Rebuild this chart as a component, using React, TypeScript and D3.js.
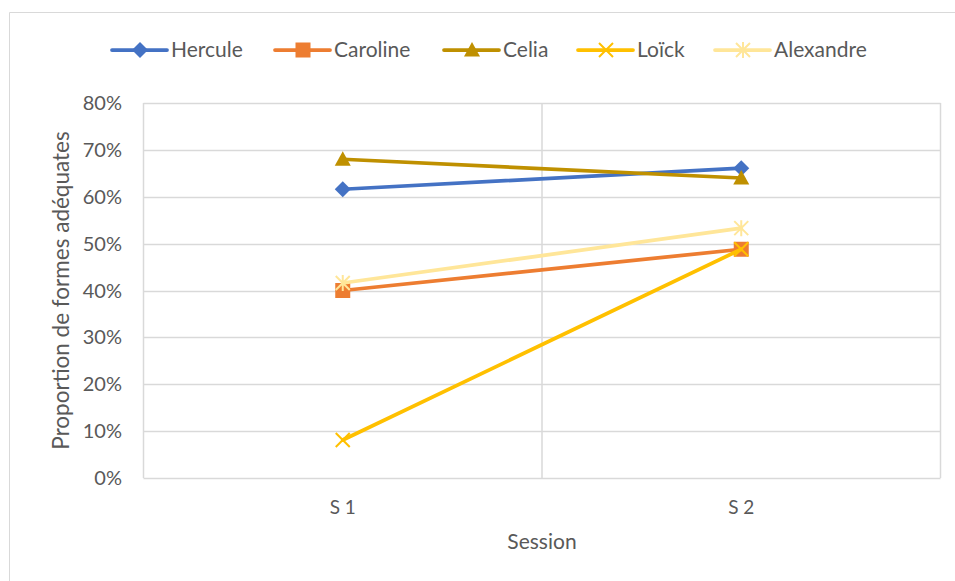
import React from "react";
import * as d3 from "d3";

const categories = ["S 1", "S 2"];
const seriesNames = ["Hercule", "Caroline", "Celia", "Loïck", "Alexandre"];
const hercule = [0.616, 0.661];
const caroline = [0.40, 0.488];
const celia = [0.68, 0.64];
const loick = [0.081, 0.488];
const alexandre = [0.416, 0.533];
const yTicks = [0, 0.1, 0.2, 0.3, 0.4, 0.5, 0.6, 0.7, 0.8];

const colors = ["#4472C4", "#ED7D31", "#BF9000", "#FFC000", "#FFE699"];
const markers = ["diamond", "square", "triangle", "x", "star"];
const seriesValues = [hercule, caroline, celia, loick, alexandre];

const W = 955, H = 581;
const plot = { left: 143.5, right: 940.5, top: 103, bottom: 478 };
const FONT = "Lato, 'Open Sans', sans-serif";
const TEXT = "#595959";

function Marker({ type, x, y, color }: { type: string; x: number; y: number; color: string }) {
  if (type === "diamond") {
    const s = 8;
    return <path d={`M${x},${y - s}L${x + s},${y}L${x},${y + s}L${x - s},${y}Z`} fill={color} />;
  }
  if (type === "square") {
    const s = 7.5;
    return <rect x={x - s} y={y - s} width={2 * s} height={2 * s} fill={color} />;
  }
  if (type === "triangle") {
    const s = 8;
    return <path d={`M${x},${y - s}L${x + s},${y + s * 0.8}L${x - s},${y + s * 0.8}Z`} fill={color} />;
  }
  if (type === "x") {
    const s = 7;
    return <path d={`M${x - s},${y - s}L${x + s},${y + s}M${x + s},${y - s}L${x - s},${y + s}`} stroke={color} strokeWidth={2} fill="none" />;
  }
  const s = 7;
  return (
    <path
      d={`M${x - s},${y - s}L${x + s},${y + s}M${x + s},${y - s}L${x - s},${y + s}M${x},${y - s - 1}L${x},${y + s + 1}`}
      stroke={color}
      strokeWidth={2}
      fill="none"
    />
  );
}

export default function App() {
  const x = d3.scaleBand<string>().domain(categories).range([plot.left, plot.right]);
  const y = d3.scaleLinear().domain([0, 0.8]).range([plot.bottom, plot.top]);
  const cx = (c: string) => (x(c) as number) + x.bandwidth() / 2;
  const line = d3
    .line<number>()
    .x((_, i) => cx(categories[i]))
    .y((d) => y(d));
  const fmt = d3.format(".0%");
  const legendX = [112, 275, 444, 578, 715];
  const legendY = 50;

  return (
    <svg width={W} height={H} style={{ position: "absolute", left: 0, top: 0, background: "#fff" }} fontFamily={FONT}>
      <rect x={0} y={0} width={W} height={H} fill="#fff" />
      <path d={`M9.5,${H}V12.5H${W}`} fill="none" stroke="#d9d9d9" strokeWidth={1} />
      {yTicks.map((t) => (
        <line key={t} x1={plot.left} x2={plot.right} y1={Math.round(y(t)) + 0.5} y2={Math.round(y(t)) + 0.5} stroke="#d9d9d9" strokeWidth={1.5} />
      ))}
      {[plot.left, (plot.left + plot.right) / 2, plot.right].map((vx, i) => (
        <line key={i} x1={vx} x2={vx} y1={plot.top} y2={plot.bottom} stroke="#d9d9d9" strokeWidth={1.5} />
      ))}
      {yTicks.map((t) => (
        <text key={t} x={122} y={y(t)} dy="0.35em" textAnchor="end" fontSize={20} fill={TEXT}>
          {fmt(t)}
        </text>
      ))}
      {categories.map((c) => (
        <text key={c} x={cx(c)} y={507} dy="0.35em" textAnchor="middle" fontSize={19} fill={TEXT}>
          {c}
        </text>
      ))}
      <text x={(plot.left + plot.right) / 2} y={542} dy="0.35em" textAnchor="middle" fontSize={21} fill={TEXT}>
        Session
      </text>
      <text transform={`translate(61,${(plot.top + plot.bottom) / 2}) rotate(-90)`} dy="0.35em" textAnchor="middle" fontSize={22.5} fill={TEXT}>
        Proportion de formes adéquates
      </text>
      {seriesValues.map((vals, si) => (
        <g key={seriesNames[si]}>
          <path d={line(vals) || ""} fill="none" stroke={colors[si]} strokeWidth={3.75} strokeLinecap="round" />
          {vals.map((v, i) => (
            <Marker key={i} type={markers[si]} x={cx(categories[i])} y={y(v)} color={colors[si]} />
          ))}
        </g>
      ))}
      {seriesNames.map((n, si) => (
        <g key={n}>
          <line x1={legendX[si]} x2={legendX[si] + 55} y1={legendY} y2={legendY} stroke={colors[si]} strokeWidth={3.75} strokeLinecap="round" />
          <Marker type={markers[si]} x={legendX[si] + 28} y={legendY} color={colors[si]} />
          <text x={legendX[si] + 59} y={legendY} dy="0.35em" fontSize={21} fill={TEXT}>
            {n}
          </text>
        </g>
      ))}
    </svg>
  );
}
